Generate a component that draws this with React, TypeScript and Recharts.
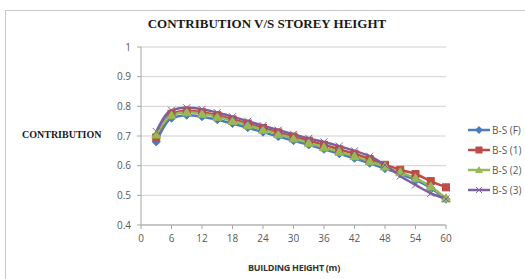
import React from 'react';
import { LineChart, Line, XAxis, YAxis, CartesianGrid } from 'recharts';

const heights = [3, 6, 9, 12, 15, 18, 21, 24, 27, 30, 33, 36, 39, 42, 45, 48, 51, 54, 57, 60];
const bsF = [0.68, 0.76, 0.77, 0.765, 0.755, 0.742, 0.728, 0.713, 0.698, 0.684, 0.67, 0.655, 0.64, 0.625, 0.608, 0.59, 0.572, 0.552, 0.525, 0.487];
const bs1 = [0.695, 0.775, 0.785, 0.78, 0.77, 0.756, 0.742, 0.727, 0.712, 0.698, 0.684, 0.67, 0.655, 0.64, 0.622, 0.603, 0.586, 0.572, 0.548, 0.527];
const bs2 = [0.705, 0.77, 0.78, 0.775, 0.765, 0.751, 0.736, 0.721, 0.706, 0.692, 0.677, 0.662, 0.647, 0.632, 0.615, 0.597, 0.578, 0.558, 0.53, 0.49];
const bs3 = [0.715, 0.787, 0.795, 0.79, 0.779, 0.765, 0.75, 0.735, 0.72, 0.706, 0.692, 0.68, 0.666, 0.65, 0.632, 0.602, 0.565, 0.535, 0.507, 0.488];
const xTicks = [0, 6, 12, 18, 24, 30, 36, 42, 48, 54, 60];
const yTicks = [0.4, 0.5, 0.6, 0.7, 0.8, 0.9, 1];

const data = heights.map((h, i) => ({ h, f: bsF[i], s1: bs1[i], s2: bs2[i], s3: bs3[i] }));

const BLUE = '#4a7ebb';
const RED = '#be4b48';
const GREEN = '#98b954';
const PURPLE = '#7d60a0';

const Diamond = (p: any) => (
  <path key={p.index} d={`M${p.cx},${p.cy - 4}L${p.cx + 4},${p.cy}L${p.cx},${p.cy + 4}L${p.cx - 4},${p.cy}Z`} fill={BLUE} stroke={BLUE} />
);
const Square = (p: any) => (
  <rect key={p.index} x={p.cx - 3.5} y={p.cy - 3.5} width={7} height={7} fill={RED} stroke={RED} />
);
const Triangle = (p: any) => (
  <path key={p.index} d={`M${p.cx},${p.cy - 4.5}L${p.cx + 4.5},${p.cy + 3.5}L${p.cx - 4.5},${p.cy + 3.5}Z`} fill={GREEN} stroke={GREEN} />
);
const Cross = (p: any) => (
  <path key={p.index} d={`M${p.cx - 3.5},${p.cy - 3.5}L${p.cx + 3.5},${p.cy + 3.5}M${p.cx - 3.5},${p.cy + 3.5}L${p.cx + 3.5},${p.cy - 3.5}`} stroke={PURPLE} strokeWidth={1} fill="none" />
);

const legendItems = [
  { name: 'B-S (F)', color: BLUE, shape: 'diamond' },
  { name: 'B-S (1)', color: RED, shape: 'square' },
  { name: 'B-S (2)', color: GREEN, shape: 'triangle' },
  { name: 'B-S (3)', color: PURPLE, shape: 'cross' },
];

const LegendMark = ({ shape, color }: { shape: string; color: string }) => {
  const cx = 11, cy = 5;
  let m: React.ReactNode = null;
  if (shape === 'diamond') m = <path d={`M${cx},${cy - 4}L${cx + 4},${cy}L${cx},${cy + 4}L${cx - 4},${cy}Z`} fill={color} />;
  if (shape === 'square') m = <rect x={cx - 3.5} y={cy - 3.5} width={7} height={7} fill={color} />;
  if (shape === 'triangle') m = <path d={`M${cx},${cy - 4}L${cx + 4},${cy + 3}L${cx - 4},${cy + 3}Z`} fill={color} />;
  if (shape === 'cross') m = <path d={`M${cx - 3},${cy - 3}L${cx + 3},${cy + 3}M${cx - 3},${cy + 3}L${cx + 3},${cy - 3}`} stroke={color} />;
  return (
    <svg width={22} height={10} style={{ display: 'block' }}>
      <line x1={0} y1={cy} x2={22} y2={cy} stroke={color} strokeWidth={2.5} />
      {m}
    </svg>
  );
};

export default function App() {
  const tickStyle = { fontSize: 10, fill: '#595959', fontFamily: 'Open Sans, sans-serif' };
  return (
    <div style={{ position: 'absolute', left: 0, top: 0, width: 525, height: 279, overflow: 'hidden', background: '#fff' }}>
      <div style={{ position: 'absolute', left: 5, top: 10, width: 540, height: 290, border: '1px solid #c8c8c8' }} />
      <div style={{ position: 'absolute', left: 0, top: 16, width: 534, textAlign: 'center', fontFamily: 'Liberation Serif, serif', fontWeight: 'bold', fontSize: 13, color: '#1a1a1a' }}>
        CONTRIBUTION V/S STOREY HEIGHT
      </div>
      <div style={{ position: 'absolute', left: 22, top: 129, fontFamily: 'Liberation Serif, serif', fontWeight: 'bold', fontSize: 10, color: '#1a1a1a' }}>
        CONTRIBUTION
      </div>
      <div style={{ position: 'absolute', left: 194, top: 261, width: 200, textAlign: 'center', fontFamily: 'Open Sans, sans-serif', fontWeight: 'bold', fontSize: 9, color: '#333', letterSpacing: -0.3 }}>
        BUILDING HEIGHT (m)
      </div>
      <div style={{ position: 'absolute', left: 468, top: 120 }}>
        {legendItems.map((it) => (
          <div key={it.name} style={{ display: 'flex', alignItems: 'center', height: 20 }}>
            <LegendMark shape={it.shape} color={it.color} />
            <span style={{ marginLeft: 2, fontSize: 10, color: '#595959', fontFamily: 'Open Sans, sans-serif' }}>{it.name}</span>
          </div>
        ))}
      </div>
      <div style={{ position: 'absolute', left: 0, top: 0 }}>
        <LineChart width={525} height={279} data={data} margin={{ top: 47, right: 79, bottom: 24, left: 101 }}>
          <CartesianGrid vertical={false} stroke="#d0d0d0" />
          <XAxis
            dataKey="h"
            type="number"
            domain={[0, 60]}
            ticks={xTicks}
            tick={tickStyle}
            stroke="#a6a6a6"
            tickSize={4}
            tickMargin={6}
            height={30}
          />
          <YAxis
            domain={[0.4, 1]}
            ticks={yTicks}
            tick={tickStyle}
            stroke="#a6a6a6"
            tickSize={4}
            tickMargin={6}
            width={40}
            tickFormatter={(v: number) => String(Math.round(v * 10) / 10)}
          />
          <Line type="monotone" dataKey="f" stroke={BLUE} strokeWidth={2.5} dot={Diamond} isAnimationActive={false} />
          <Line type="monotone" dataKey="s1" stroke={RED} strokeWidth={2.5} dot={Square} isAnimationActive={false} />
          <Line type="monotone" dataKey="s2" stroke={GREEN} strokeWidth={2.5} dot={Triangle} isAnimationActive={false} />
          <Line type="monotone" dataKey="s3" stroke={PURPLE} strokeWidth={2.5} dot={Cross} isAnimationActive={false} />
        </LineChart>
      </div>
    </div>
  );
}
